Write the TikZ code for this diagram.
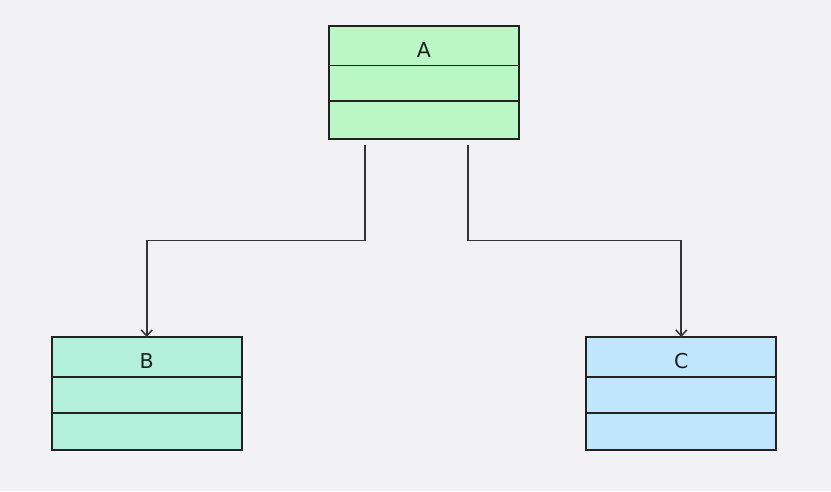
\documentclass[tikz,border=0pt]{standalone}
\usepackage{fontspec}
\setmainfont{DejaVu Sans}
\usetikzlibrary{arrows.meta}
\definecolor{bgc}{HTML}{F2F2F4}
\definecolor{fillA}{HTML}{BBF7C6}
\definecolor{fillB}{HTML}{B3F0DC}
\definecolor{fillC}{HTML}{C0E6FD}
\definecolor{edgec}{HTML}{333333}
\definecolor{linec}{HTML}{222222}
\tikzset{
  x=1pt, y=-1pt,
  classbox/.style={draw=linec, line width=2pt, minimum width=190pt, minimum height=113pt, inner sep=0pt, outer sep=0pt},
  divider/.style={draw=linec, line width=1.8pt},
  conn/.style={draw=edgec, line width=1.8pt, -{Straight Barb[length=6pt,width=11pt,line width=1.5pt]}},
  lbl/.style={font=\fontsize{20.5}{24}\selectfont, text=black!88, inner sep=0pt},
}
\begin{document}
\begin{tikzpicture}
\fill[bgc] (0,0) rectangle (831,491);
\useasboundingbox (0,0) rectangle (831,491);
% class A
\node[classbox, fill=fillA] (A) at (424,82.5) {};
\draw[divider] (329,65.5) -- (519,65.5);
\draw[divider] (329,101) -- (519,101);
\node[lbl] (Al) at (424,50) {A};
% class B
\node[classbox, fill=fillB] (B) at (146.7,393.5) {};
\draw[divider] (51.7,376.7) -- (241.7,376.7);
\draw[divider] (51.7,412.7) -- (241.7,412.7);
\node[lbl] (Bl) at (146.7,361) {B};
% class C
\node[classbox, fill=fillC] (C) at (681.3,393.5) {};
\draw[divider] (586.3,376.7) -- (776.3,376.7);
\draw[divider] (586.3,412.7) -- (776.3,412.7);
\node[lbl] (Cl) at (681.3,361) {C};
% connectors
\coordinate (sB) at (365,144.5);
\coordinate (sC) at (468.3,144.5);
\draw[conn] (sB) |- (146.7,240.5) -- (B.north);
\draw[conn] (sC) |- (681.3,240.5) -- (C.north);
\end{tikzpicture}
\end{document}
